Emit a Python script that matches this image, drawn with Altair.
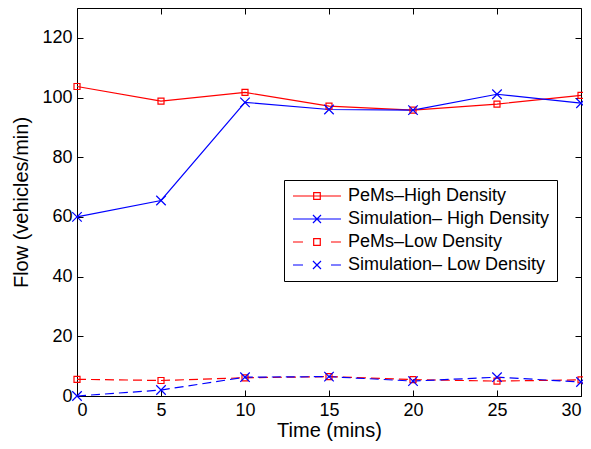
import altair as alt
import pandas as pd

# ---- data ----
time_mins = [0, 5, 10, 15, 20, 25, 30]
pems_high = [103.7, 98.8, 101.7, 97.1, 95.8, 97.8, 100.7]
sim_high = [60.0, 65.5, 98.4, 96.0, 95.8, 101.1, 98.1]
pems_low = [5.6, 5.2, 6.1, 6.5, 5.5, 5.0, 5.4]
sim_low = [0.0, 2.0, 6.3, 6.5, 5.0, 6.3, 4.7]

series_names = [
    "PeMs\u2013High Density",
    "Simulation\u2013 High Density",
    "PeMs\u2013Low Density",
    "Simulation\u2013 Low Density",
]
series_values = [pems_high, sim_high, pems_low, sim_low]

x_ticks = [0, 5, 10, 15, 20, 25, 30]
y_ticks = [0, 20, 40, 60, 80, 100, 120]


def frame(names):
    rows = []
    for name, vals in zip(series_names, series_values):
        if name in names:
            for t, v in zip(time_mins, vals):
                rows.append({"time": t, "flow": v, "series": name})
    return pd.DataFrame(rows)


df_all = frame(series_names)
df_high = frame(series_names[:2])
df_low = frame(series_names[2:])
df_pems = frame([series_names[0], series_names[2]])
df_sim = frame([series_names[1], series_names[3]])

FONT = "Liberation Sans"
RED = "#ff0000"
BLUE = "#0000ff"
W, H = 504, 388

color_scale = alt.Scale(domain=series_names, range=[RED, BLUE, RED, BLUE])
X_PATH = "M-1,-1L1,1M-1,1L1,-1"

# legend symbols: line (solid / dashed) plus marker, unit = 6 px
SOLID = "M-1.17,0L6.83,0"
DASHED = "M-1.17,0L0.5,0M5.16,0L6.83,0"
SQ = "M2.28,-0.55L3.38,-0.55L3.38,0.55L2.28,0.55Z"
XX = "M2.16,-0.67L3.5,0.67M2.16,0.67L3.5,-0.67"
legend_paths = [SOLID + SQ, SOLID + XX, DASHED + SQ, DASHED + XX]
shape_scale = alt.Scale(domain=series_names, range=legend_paths)

legend = alt.Legend(
    title=None,
    orient="none",
    legendX=207,
    legendY=172,
    symbolSize=144,
    symbolStrokeWidth=1.2,
    symbolOpacity=1,
    symbolFillColor="transparent",
    labelFont=FONT,
    labelFontSize=18,
    labelColor="black",
    labelOffset=39,
    labelLimit=500,
    rowPadding=5,
    padding=7,
    strokeColor="black",
    fillColor="white",
)

x_enc = alt.X(
    "time:Q",
    scale=alt.Scale(domain=[0, 30], nice=False),
    axis=alt.Axis(
        values=x_ticks,
        title="Time (mins)",
        grid=True,
        gridDash=[6, 376],
        ticks=False,
        domain=False,
        labelPadding=5,
        titlePadding=1,
    ),
)
y_enc = alt.Y(
    "flow:Q",
    scale=alt.Scale(domain=[0, 130], nice=False),
    axis=alt.Axis(
        values=y_ticks,
        title="Flow (vehicles/min)",
        grid=True,
        gridDash=[6, 492],
        ticks=False,
        domain=False,
        labelPadding=5,
        titlePadding=10,
    ),
)
color_nolegend = alt.Color("series:N", scale=color_scale, legend=None)

# zero-size marks that only feed the legend (colour + line/marker symbol); first layer
legend_src = alt.Chart(df_all).mark_point(
    filled=False, size=0, strokeWidth=1.2, opacity=1
).encode(
    x=x_enc,
    y=y_enc,
    color=alt.Color("series:N", scale=color_scale, legend=legend),
    shape=alt.Shape("series:N", scale=shape_scale, legend=legend),
)

lines_high = alt.Chart(df_high).mark_line(strokeWidth=1.2, clip=False).encode(
    x="time:Q", y="flow:Q", color=color_nolegend
)
lines_low = alt.Chart(df_low).mark_line(strokeWidth=1.2, strokeDash=[9, 5], clip=False).encode(
    x="time:Q", y="flow:Q", color=color_nolegend
)
pts_sq = alt.Chart(df_pems).mark_point(
    shape="square", size=36, filled=False, strokeWidth=1.2, opacity=1, clip=False
).encode(x="time:Q", y="flow:Q", color=color_nolegend)
pts_x = alt.Chart(df_sim).mark_point(
    shape=X_PATH, size=90, filled=False, strokeWidth=1.2, opacity=1, clip=False
).encode(x="time:Q", y="flow:Q", color=color_nolegend)

chart = (
    alt.layer(legend_src, lines_high, lines_low, pts_sq, pts_x)
    .properties(
        width=W,
        height=H,
        autosize=alt.AutoSizeParams(type="none"),
        padding={"left": 69, "top": 0, "right": 2, "bottom": 45},
        background="white",
    )
    .configure_view(stroke="black", strokeWidth=1)
    .configure_legend(strokeColor="black", strokeWidth=1)
    .configure_axis(
        labelFont=FONT,
        labelFontSize=18,
        labelColor="black",
        titleFont=FONT,
        titleFontSize=20,
        titleFontWeight="normal",
        titleColor="black",
        gridColor="black",
        gridOpacity=1,
        gridWidth=1,
    )
)

chart.save("out.html", embed_options={"renderer": "svg", "actions": False})
